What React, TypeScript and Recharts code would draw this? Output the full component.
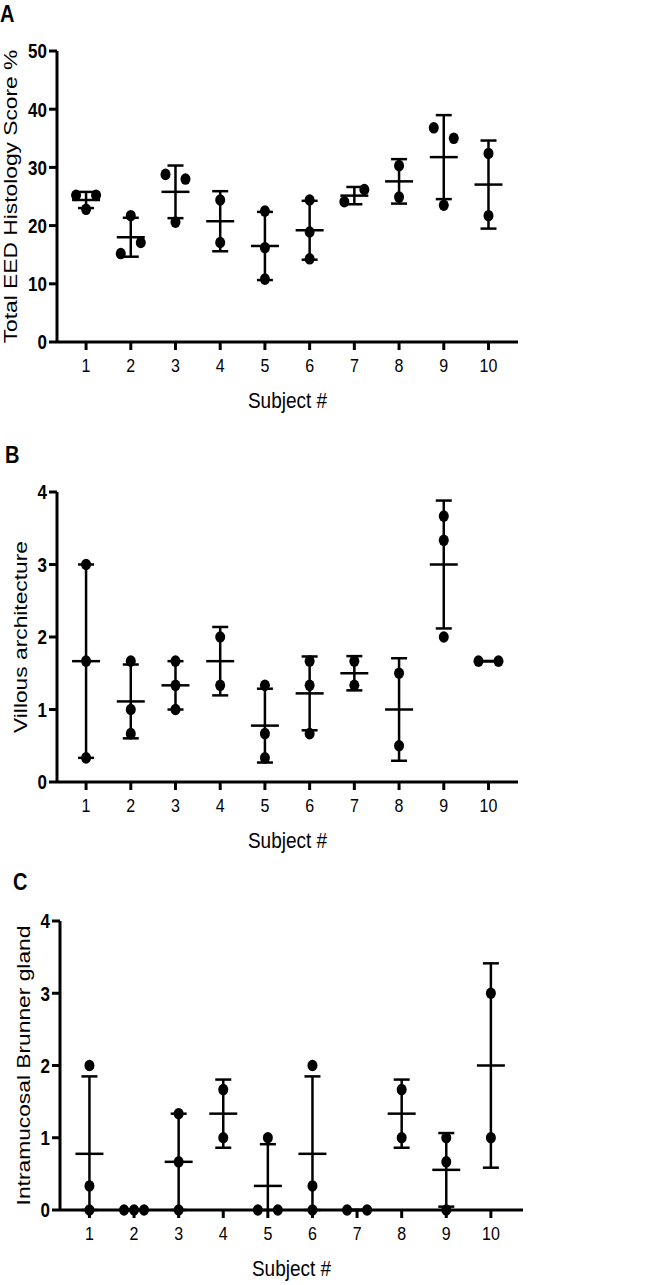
import { ErrorBar, Label, Scatter, ScatterChart, XAxis, YAxis } from "recharts";

const subjects = [1, 2, 3, 4, 5, 6, 7, 8, 9, 10];

// one inner list per subject: the individual biopsy scores
const totalScore = [
  [25.2, 25.2, 22.8],
  [15.2, 17.1, 21.7],
  [28.8, 28.0, 20.6],
  [24.4, 17.1],
  [22.5, 16.2, 10.8],
  [24.4, 18.9, 14.3],
  [24.1, 26.2],
  [30.3, 24.9],
  [36.8, 35.0, 23.5],
  [32.4, 21.7],
];

const villous = [
  [3, 1.667, 0.333],
  [1.667, 1, 0.667],
  [1.667, 1.333, 1],
  [2, 1.333],
  [1.333, 0.667, 0.333],
  [1.667, 1.333, 0.667],
  [1.667, 1.333],
  [1.5, 0.5],
  [3.667, 3.333, 2],
  [1.667, 1.667],
];

const brunner = [
  [2, 0.333, 0],
  [0, 0, 0],
  [1.333, 0.667, 0],
  [1.667, 1],
  [1, 0, 0],
  [2, 0.333, 0],
  [0, 0],
  [1.667, 1],
  [1, 0.667, 0],
  [3, 1],
];

const ticks50 = [0, 10, 20, 30, 40, 50];
const ticks4 = [0, 1, 2, 3, 4];

const FONT = "'Liberation Sans', Arial, Helvetica, sans-serif";
const STRETCH = 1.2; // the figure is slightly taller than wide
const INK = "#000";
const Y_AXIS_W = 50;
const X_AXIS_H = 30;
const JITTER_PX = 10;
const OVERLAP_PX = 13;

type Box = { left: number; top: number; right: number; bottom: number };

interface PanelProps {
  top: number;
  height: number;
  plot: Box;
  xDomain: [number, number];
  yMax: number;
  yTicks: number[];
  yTitle: string;
  yTitleX: number;
  values: number[][];
}

// spread overlapping dots sideways like the original scatter plot
function buildPoints(values: number[][], pxPerX: number, pxPerY: number) {
  const dots: { x: number; y: number }[] = [];
  const summary: { x: number; y: number; err: [number, number] }[] = [];
  values.forEach((vals, i) => {
    const subject = subjects[i];
    const order = vals.map((_, k) => k).sort((a, b) => vals[a] - vals[b]);
    const groups: number[][] = [];
    order.forEach((k) => {
      const g = groups[groups.length - 1];
      if (g && (vals[k] - vals[g[g.length - 1]]) * pxPerY < OVERLAP_PX) g.push(k);
      else groups.push([k]);
    });
    groups.forEach((g) => {
      g.sort((a, b) => a - b);
      g.forEach((k, j) => {
        const px = g.length === 1 ? 0 : -JITTER_PX + (j * 2 * JITTER_PX) / (g.length - 1);
        dots.push({ x: subject + px / pxPerX, y: vals[k] });
      });
    });
    const mean = vals.reduce((s, v) => s + v, 0) / vals.length;
    const sd = Math.sqrt(vals.reduce((s, v) => s + (v - mean) ** 2, 0) / (vals.length - 1));
    summary.push({ x: subject, y: mean, err: [Math.min(sd, mean), sd] });
  });
  return { dots, summary };
}

const XTick = (p: any) => (
  <text
    transform={`translate(${p.x},${p.y + 22}) scale(1,${STRETCH})`}
    textAnchor="middle"
    fontFamily={FONT}
    fontSize={16}
    fill={INK}
  >
    {p.payload.value}
  </text>
);

const YTick = (p: any) => (
  <text
    transform={`translate(${p.x - 2},${p.y + 7.3}) scale(1,${STRETCH})`}
    textAnchor="end"
    fontFamily={FONT}
    fontSize={17}
    fontWeight="bold"
    fill={INK}
  >
    {p.payload.value}
  </text>
);

function Panel({ top, height, plot, xDomain, yMax, yTicks, yTitle, yTitleX, values }: PanelProps) {
  const pxPerX = (plot.right - plot.left) / (xDomain[1] - xDomain[0]);
  const pxPerY = (plot.bottom - plot.top) / yMax;
  const { dots, summary } = buildPoints(values, pxPerX, pxPerY);

  return (
    <div style={{ position: "absolute", left: 0, top, width: 654, height }}>
      <ScatterChart
        width={654}
        height={height}
        margin={{
          top: plot.top - top,
          right: 654 - plot.right,
          bottom: top + height - plot.bottom - X_AXIS_H,
          left: plot.left - Y_AXIS_W,
        }}
      >
        <XAxis
          type="number"
          dataKey="x"
          domain={xDomain}
          ticks={subjects}
          interval={0}
          height={X_AXIS_H}
          tickSize={8}
          tickMargin={0}
          axisLine={{ stroke: INK, strokeWidth: 3 }}
          tickLine={{ stroke: INK, strokeWidth: 3 }}
          tick={XTick}
        >
          <Label
            content={(p: any) => (
              <text
                transform={`translate(${p.viewBox.x + p.viewBox.width / 2},${plot.bottom - top + 66}) scale(1,${STRETCH})`}
                textAnchor="middle"
                fontFamily={FONT}
                fontSize={19}
                fill={INK}
              >
                Subject #
              </text>
            )}
          />
        </XAxis>
        <YAxis
          type="number"
          dataKey="y"
          domain={[0, yMax]}
          ticks={yTicks}
          interval={0}
          width={Y_AXIS_W}
          tickSize={8}
          tickMargin={0}
          axisLine={{ stroke: INK, strokeWidth: 3 }}
          tickLine={{ stroke: INK, strokeWidth: 3 }}
          tick={YTick}
        >
          <Label
            content={(p: any) => (
              <text
                transform={`translate(${yTitleX},${p.viewBox.y + p.viewBox.height / 2}) scale(1,${STRETCH}) rotate(-90)`}
                textAnchor="middle"
                fontFamily={FONT}
                fontSize={19}
                fill={INK}
              >
                {yTitle}
              </text>
            )}
          />
        </YAxis>
        <Scatter
          data={dots}
          isAnimationActive={false}
          shape={(p: any) => <ellipse cx={p.cx} cy={p.cy} rx={5} ry={5.8} fill={INK} />}
        />
        <Scatter
          data={summary}
          isAnimationActive={false}
          shape={(p: any) => (
            <line x1={p.cx - 14} x2={p.cx + 14} y1={p.cy} y2={p.cy} stroke={INK} strokeWidth={2.5} />
          )}
        >
          <ErrorBar dataKey="err" direction="y" width={8} stroke={INK} strokeWidth={2.5} />
        </Scatter>
      </ScatterChart>
    </div>
  );
}

const letterStyle = { fontFamily: FONT, fontSize: 20, fontWeight: "bold" as const, fill: INK };

export default function App() {
  return (
    <div style={{ position: "absolute", left: 0, top: 0, width: 654, height: 1285, background: "#fff" }}>
      <Panel
        top={0}
        height={430}
        plot={{ left: 57, top: 51, right: 518, bottom: 342 }}
        xDomain={[0.35, 10.66]}
        yMax={50}
        yTicks={ticks50}
        yTitle="Total EED Histology Score %"
        yTitleX={17}
        values={totalScore}
      />
      <Panel
        top={430}
        height={430}
        plot={{ left: 57, top: 492, right: 518, bottom: 782 }}
        xDomain={[0.35, 10.66]}
        yMax={4}
        yTicks={ticks4}
        yTitle="Villous architecture"
        yTitleX={27}
        values={villous}
      />
      <Panel
        top={860}
        height={425}
        plot={{ left: 60, top: 921, right: 523, bottom: 1210 }}
        xDomain={[0.34, 10.72]}
        yMax={4}
        yTicks={ticks4}
        yTitle="Intramucosal Brunner gland"
        yTitleX={30}
        values={brunner}
      />
      <svg width={654} height={1285} style={{ position: "absolute", left: 0, top: 0, pointerEvents: "none" }}>
        <text transform={`translate(0,22) scale(1,${STRETCH})`} {...letterStyle}>A</text>
        <text transform={`translate(5,463) scale(1,${STRETCH})`} {...letterStyle}>B</text>
        <text transform={`translate(13,890) scale(1,${STRETCH})`} {...letterStyle}>C</text>
      </svg>
    </div>
  );
}
